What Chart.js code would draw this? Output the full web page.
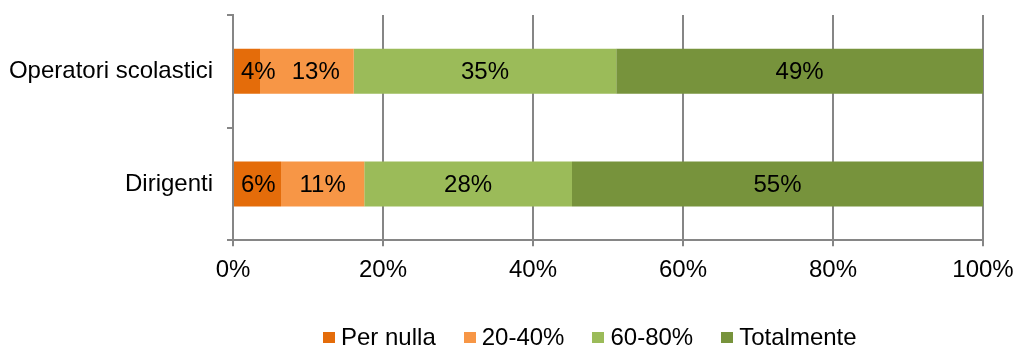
<!DOCTYPE html>
<html>
<head>
<meta charset="utf-8">
<script src="https://cdn.jsdelivr.net/npm/chart.js@4/dist/chart.umd.min.js"></script>
<style>
body{margin:0;background:#fff;font-family:"Liberation Sans",Arial,sans-serif}
#wrap{position:relative;width:1016px;height:347px}
#legend{position:absolute;left:323px;top:323px;display:flex;font-size:24px;line-height:28px;color:#000}
#legend span{display:flex;align-items:center;margin-right:28px}
#legend i{display:inline-block;width:12px;height:11px;margin-right:6px}
</style>
</head>
<body>
<div id="wrap">
<canvas id="chart" width="1016" height="347"></canvas>
<div id="legend"></div>
</div>
<script>
// categories, top to bottom
const categories=["Operatori scolastici","Dirigenti"]

// share of answers (%)
const perNulla=[3.6,6.4]
const venti40=[12.5,11.1]
const sessanta80=[35.0,27.7]
const totalmente=[48.9,54.8]

const seriesNames=["Per nulla","20-40%","60-80%","Totalmente"]
const colors=["#E46C0A","#F79646","#9BBB59","#77933C"]
const xTicks=[0,20,40,60,80,100]

const FONT="Liberation Sans, Arial, sans-serif"

// value labels in the middle of each bar piece, pushed right if they bump into the previous one
const barLabels={
  id:"barLabels",
  afterDatasetsDraw(chart){
    const ctx=chart.ctx
    ctx.save()
    ctx.font="24px "+FONT
    ctx.fillStyle="#000"
    ctx.textAlign="center"
    ctx.textBaseline="middle"
    const lastRight={}
    chart.data.datasets.forEach((ds,i)=>{
      const meta=chart.getDatasetMeta(i)
      meta.data.forEach((bar,j)=>{
        const txt=Math.round(ds.data[j])+"%"
        const w=ctx.measureText(txt).width
        let x=(bar.x+bar.base)/2
        x=Math.max(x,chart.chartArea.left+w/2+8)
        if(lastRight[j]!==undefined) x=Math.max(x,lastRight[j]+16+w/2)
        lastRight[j]=x+w/2
        ctx.fillText(txt,x,bar.y+1)
      })
    })
    ctx.restore()
  }
}

const values=[perNulla,venti40,sessanta80,totalmente]

// drop the automatic label overflow padding so layout.padding alone sets the plot box
function noPad(s){s.paddingLeft=0;s.paddingRight=0;s.paddingTop=0;s.paddingBottom=0}

new Chart(document.getElementById("chart"),{
  type:"bar",
  data:{
    labels:categories,
    datasets:values.map((v,i)=>({
      label:seriesNames[i],
      data:v,
      backgroundColor:colors[i],
      borderWidth:0,
      categoryPercentage:1,
      barPercentage:0.4
    }))
  },
  options:{
    indexAxis:"y",
    responsive:false,
    animation:false,
    layout:{padding:{left:0,right:33,top:15,bottom:52}},
    plugins:{legend:{display:false},tooltip:{enabled:false}},
    scales:{
      x:{
        stacked:true,
        min:0,max:100,
        afterBuildTicks(s){s.ticks=xTicks.map(v=>({value:v}))},
        afterFit(s){noPad(s)},
        ticks:{color:"#000",font:{family:FONT,size:24},padding:10,callback:v=>v+"%"},
        grid:{color:"#868686",lineWidth:2,tickLength:6},
        border:{color:"#868686",width:2}
      },
      y:{
        stacked:true,
        afterFit(s){s.width=233;noPad(s)},
        ticks:{color:"#000",font:{family:FONT,size:24},padding:14},
        grid:{drawOnChartArea:false,color:"#868686",lineWidth:2,tickLength:6,offset:true},
        border:{color:"#868686",width:2}
      }
    }
  },
  plugins:[barLabels]
})

// legend under the chart
const legend=document.getElementById("legend")
seriesNames.forEach((n,i)=>{
  const s=document.createElement("span")
  s.innerHTML='<i style="background:'+colors[i]+'"></i>'+n
  legend.appendChild(s)
})
</script>
</body>
</html>
